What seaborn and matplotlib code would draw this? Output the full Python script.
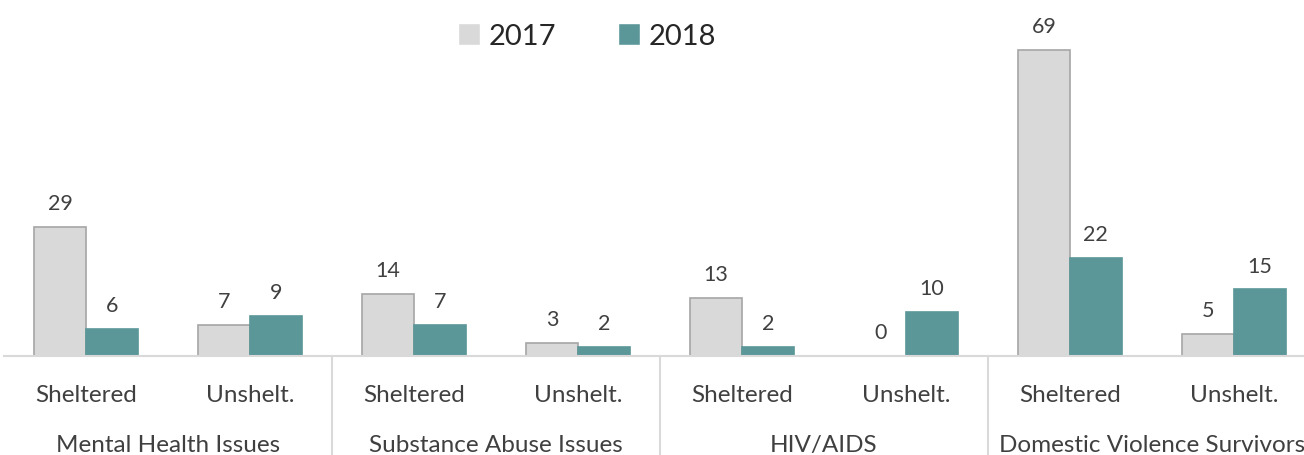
import matplotlib
matplotlib.use("Agg")
import matplotlib.pyplot as plt
import numpy as np
import pandas as pd
import seaborn as sns

groups = ["Mental Health Issues", "Substance Abuse Issues", "HIV/AIDS", "Domestic Violence Survivors"]
subgroups = ["Sheltered", "Unshelt."]
years = ["2017", "2018"]
values_2017 = [29, 7, 14, 3, 13, 0, 69, 5]
values_2018 = [6, 9, 7, 2, 2, 10, 22, 15]

colors = {"2017": "#D9D9D9", "2018": "#5B9799"}
edges = {"2017": "#A6A6A6", "2018": "#5B9799"}
text_color = "#404040"

categories = [f"{g}|{s}" for g in groups for s in subgroups]
df = pd.DataFrame({
    "category": categories * 2,
    "year": [years[0]] * len(categories) + [years[1]] * len(categories),
    "value": values_2017 + values_2018,
})

sns.set_theme(style="white")
plt.rcParams["font.family"] = ["Lato", "DejaVu Sans"]

fig = plt.figure(figsize=(13.04, 4.56), dpi=100)
# plot area runs slightly past the right edge, as in the original crop
ax = fig.add_axes([4 / 1304, 99 / 456, 1312 / 1304, 355 / 456])

sns.barplot(data=df, x="category", y="value", hue="year", order=categories,
            hue_order=years, palette=colors, saturation=1, width=0.63, ax=ax, legend=True)

for container, yr in zip(ax.containers, years):
    for bar in container:
        bar.set_edgecolor(edges[yr])
        bar.set_linewidth(1.2)
        if bar.get_height() == 0:
            bar.set_visible(False)
    ax.bar_label(container, fmt="%d", padding=10, fontsize=15.5, color=text_color)

ax.set_xlim(-0.5, len(categories) - 0.5)
ax.set_ylim(0, 80)
ax.set_xlabel("")
ax.set_ylabel("")
ax.set_yticks([])
ax.set_xticks(range(len(categories)))
ax.set_xticklabels([c.split("|")[1] for c in categories], fontsize=17.5, color=text_color)
ax.tick_params(axis="x", length=0, pad=20)
for side in ["top", "left", "right"]:
    ax.spines[side].set_visible(False)
ax.spines["bottom"].set_color("#D9D9D9")
ax.spines["bottom"].set_linewidth(1.5)

# group labels and separators
n_sub = len(subgroups)
trans = matplotlib.transforms.blended_transform_factory(ax.transData, ax.transAxes)
for i, g in enumerate(groups):
    center = i * n_sub + (n_sub - 1) / 2
    ax.text(center, -0.25, g, transform=trans, ha="center", va="center",
            fontsize=17.5, color=text_color, clip_on=False)
    if i > 0:
        xs = i * n_sub - 0.5
        ax.plot([xs, xs], [0, -0.3], transform=trans, color="#D9D9D9",
                linewidth=1.5, clip_on=False)

handles, labels = ax.get_legend_handles_labels()
ax.legend(handles, labels, loc="center", bbox_to_anchor=(587 / 1304, 1 - 37 / 456),
          bbox_transform=fig.transFigure, ncol=2, frameon=False, fontsize=21,
          handlelength=0.75, handleheight=0.75, handletextpad=0.3, columnspacing=2.1,
          labelcolor="#262626")

fig.savefig("out.png", dpi=100)
